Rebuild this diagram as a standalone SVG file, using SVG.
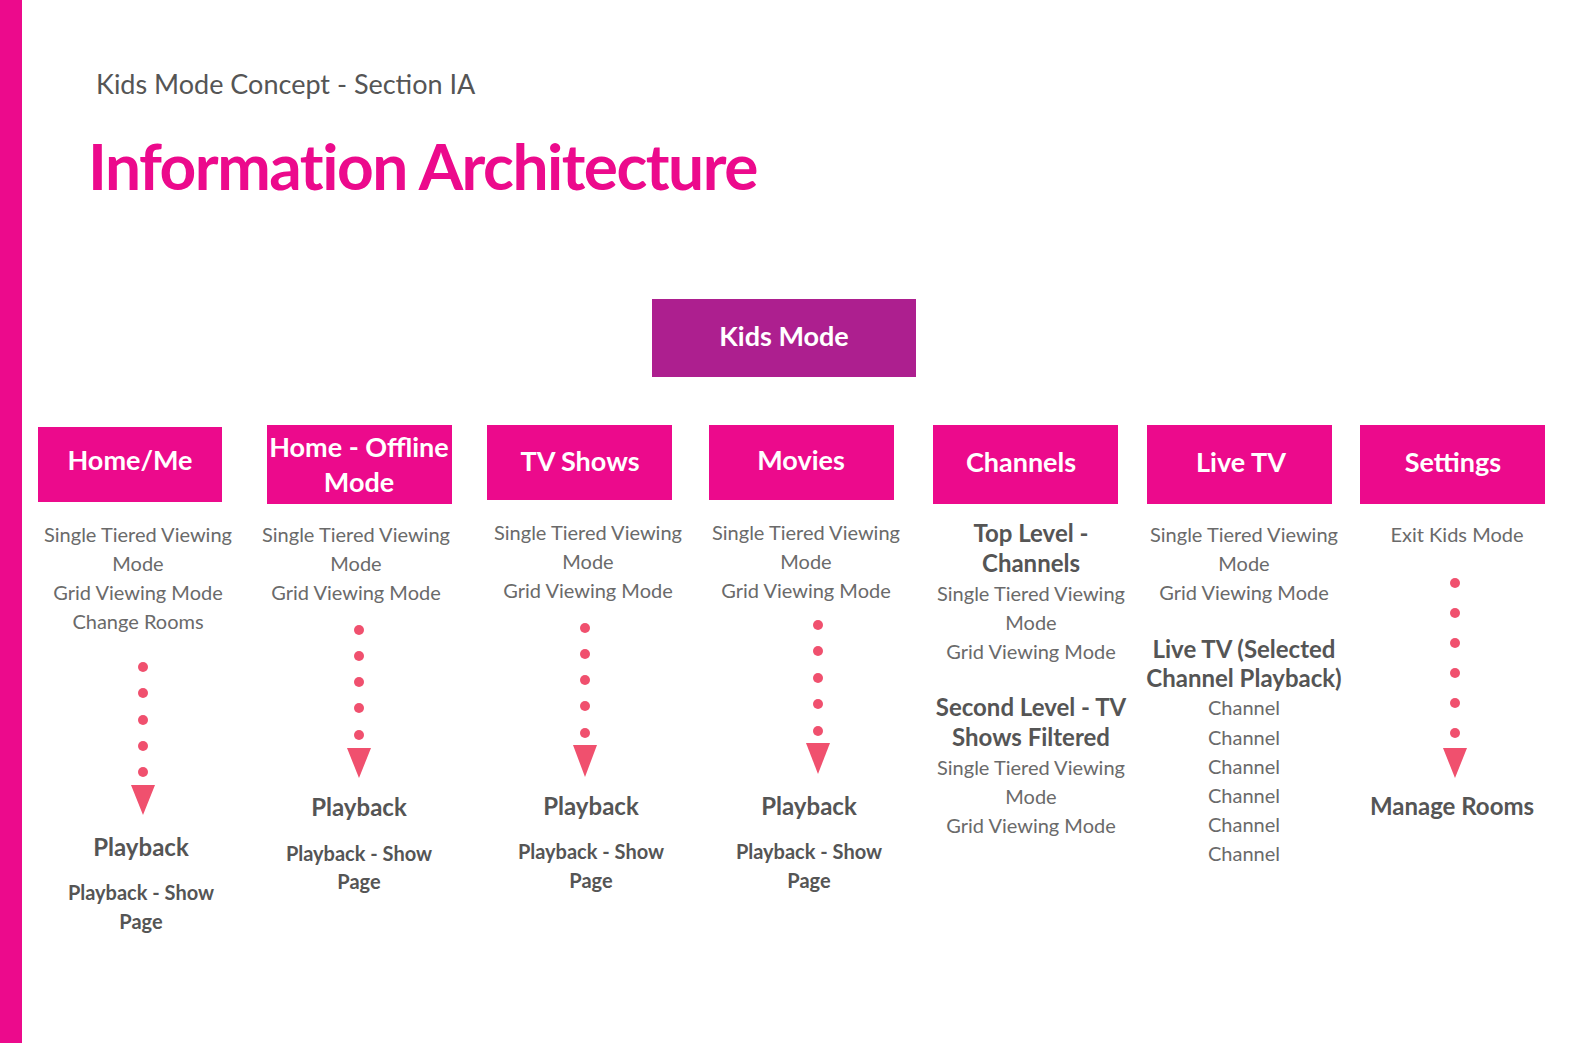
<svg xmlns="http://www.w3.org/2000/svg" width="1586" height="1043" viewBox="0 0 1586 1043">
<style>
.box{fill:#EC0A8C}
.bt{font-family:Lato,"Open Sans",sans-serif;font-size:27px;font-weight:bold;fill:#fff;text-anchor:middle}
.t{font-family:Lato,"Open Sans",sans-serif;font-size:20px;fill:#6a6a6a;text-anchor:middle}
.h{font-family:Lato,"Open Sans",sans-serif;font-size:24px;font-weight:bold;fill:#555;text-anchor:middle}
.s{font-family:Lato,"Open Sans",sans-serif;font-size:20px;font-weight:bold;fill:#555;text-anchor:middle}
.d{fill:#F0506E}
</style>
<rect width="1586" height="1043" fill="#fff"/>
<rect x="0" y="0" width="22" height="1043" fill="#EC0A8C"/>
<text x="96" y="94" font-family="Lato,sans-serif" font-size="27" fill="#555">Kids Mode Concept - Section IA</text>
<text x="88" y="190" font-family="Lato,sans-serif" font-size="64" font-weight="bold" fill="#EC0A8C" letter-spacing="-1.5">Information Architecture</text>
<g id="kids"><rect x="652" y="299" width="264" height="78" fill="#AD1F8F"/><text class="bt" x="784" y="346">Kids Mode</text></g>
<g id="home"><rect class="box" x="38" y="427" width="184" height="75"/><text class="bt" x="130" y="470">Home/Me</text>
<text class="t" x="138" y="542">Single Tiered Viewing</text><text class="t" x="138" y="571">Mode</text><text class="t" x="138" y="600">Grid Viewing Mode</text><text class="t" x="138" y="629">Change Rooms</text>
<text class="h" x="141" y="856">Playback</text><text class="s" x="141" y="900">Playback - Show</text><text class="s" x="141" y="929">Page</text></g>
<g id="offline"><rect class="box" x="267" y="425" width="185" height="79"/><text class="bt" x="359" y="457">Home - Offline</text><text class="bt" x="359" y="492">Mode</text>
<text class="t" x="356" y="542">Single Tiered Viewing</text><text class="t" x="356" y="571">Mode</text><text class="t" x="356" y="600">Grid Viewing Mode</text>
<text class="h" x="359" y="816">Playback</text><text class="s" x="359" y="861">Playback - Show</text><text class="s" x="359" y="889">Page</text></g>
<g id="tv"><rect class="box" x="487" y="425" width="185" height="75"/><text class="bt" x="580" y="471">TV Shows</text>
<text class="t" x="588" y="540">Single Tiered Viewing</text><text class="t" x="588" y="569">Mode</text><text class="t" x="588" y="598">Grid Viewing Mode</text>
<text class="h" x="591" y="815">Playback</text><text class="s" x="591" y="859">Playback - Show</text><text class="s" x="591" y="888">Page</text></g>
<g id="movies"><rect class="box" x="709" y="425" width="185" height="75"/><text class="bt" x="801" y="470">Movies</text>
<text class="t" x="806" y="540">Single Tiered Viewing</text><text class="t" x="806" y="569">Mode</text><text class="t" x="806" y="598">Grid Viewing Mode</text>
<text class="h" x="809" y="815">Playback</text><text class="s" x="809" y="859">Playback - Show</text><text class="s" x="809" y="888">Page</text></g>
<g id="channels"><rect class="box" x="933" y="425" width="185" height="79"/><text class="bt" x="1021" y="472">Channels</text>
<text class="h" x="1031" y="542">Top Level -</text><text class="h" x="1031" y="572">Channels</text>
<text class="t" x="1031" y="601">Single Tiered Viewing</text><text class="t" x="1031" y="630">Mode</text><text class="t" x="1031" y="659">Grid Viewing Mode</text>
<text class="h" x="1031" y="716">Second Level - TV</text><text class="h" x="1031" y="746">Shows Filtered</text>
<text class="t" x="1031" y="775">Single Tiered Viewing</text><text class="t" x="1031" y="804">Mode</text><text class="t" x="1031" y="833">Grid Viewing Mode</text></g>
<g id="livetv"><rect class="box" x="1147" y="425" width="185" height="79"/><text class="bt" x="1241" y="472">Live TV</text>
<text class="t" x="1244" y="542">Single Tiered Viewing</text><text class="t" x="1244" y="571">Mode</text><text class="t" x="1244" y="600">Grid Viewing Mode</text>
<text class="h" x="1244" y="658">Live TV (Selected</text><text class="h" x="1244" y="687">Channel Playback)</text>
<text class="t" x="1244" y="715">Channel</text><text class="t" x="1244" y="745">Channel</text><text class="t" x="1244" y="774">Channel</text><text class="t" x="1244" y="803">Channel</text><text class="t" x="1244" y="832">Channel</text><text class="t" x="1244" y="861">Channel</text></g>
<g id="settings"><rect class="box" x="1360" y="425" width="185" height="79"/><text class="bt" x="1453" y="472">Settings</text>
<text class="t" x="1457" y="542">Exit Kids Mode</text>
<text class="h" x="1452" y="815">Manage Rooms</text></g>
<g id="connectors" class="d">
<circle cx="143" cy="667" r="5"/><circle cx="143" cy="693" r="5"/><circle cx="143" cy="720" r="5"/><circle cx="143" cy="746" r="5"/><circle cx="143" cy="772" r="5"/><polygon points="131,785 155,785 143,815"/>
<circle cx="359" cy="630" r="5"/><circle cx="359" cy="656" r="5"/><circle cx="359" cy="682" r="5"/><circle cx="359" cy="708" r="5"/><circle cx="359" cy="735" r="5"/><polygon points="347,748 371,748 359,778"/>
<circle cx="585" cy="628" r="5"/><circle cx="585" cy="654" r="5"/><circle cx="585" cy="680" r="5"/><circle cx="585" cy="706" r="5"/><circle cx="585" cy="733" r="5"/><polygon points="573,745 597,745 585,777"/>
<circle cx="818" cy="625" r="5"/><circle cx="818" cy="651" r="5"/><circle cx="818" cy="678" r="5"/><circle cx="818" cy="704" r="5"/><circle cx="818" cy="731" r="5"/><polygon points="806,743 830,743 818,774"/>
<circle cx="1455" cy="583" r="5"/><circle cx="1455" cy="613" r="5"/><circle cx="1455" cy="643" r="5"/><circle cx="1455" cy="673" r="5"/><circle cx="1455" cy="703" r="5"/><circle cx="1455" cy="733" r="5"/><polygon points="1443,748 1467,748 1455,778"/>
</g>
</svg>
